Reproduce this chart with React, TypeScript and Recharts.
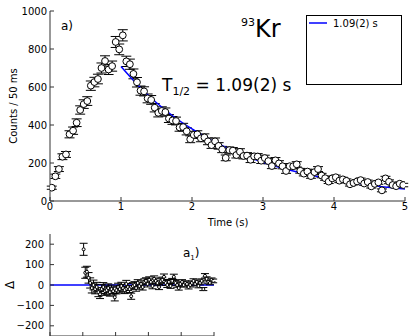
import { ComposedChart, Scatter, Line, XAxis, YAxis, ErrorBar } from 'recharts';

const FONT = '"DejaVu Sans", Verdana, sans-serif';
const BIN = 0.05; // 50 ms bins

// counts per 50 ms bin, bins centred at 0.025, 0.075, ... 4.975 s
const counts = [
  70, 130, 168, 233, 245, 351, 370, 412, 479, 510,
  526, 607, 626, 642, 700, 737, 692, 710, 837, 798,
  872, 735, 720, 669, 625, 581, 577, 540, 532, 491,
  464, 474, 468, 434, 424, 421, 387, 389, 367, 325,
  348, 351, 330, 335, 314, 294, 314, 290, 271, 227,
  268, 265, 242, 259, 237, 239, 217, 235, 234, 212,
  226, 210, 184, 214, 198, 183, 158, 183, 183, 193,
  159, 144, 155, 131, 152, 168, 134, 120, 102, 119,
  125, 107, 114, 106, 88, 95, 103, 110, 92, 100,
  77, 90, 98, 56, 119, 101, 84, 78, 91, 84,
];

// residuals (data - fit) for the bins from 1.0 s on
const residuals = [
  175, 60, 65, 35, 10, -15, 0, -20, -10, -35,
  -45, -20, -10, -30, -25, -15, -35, -20, -30, -60,
  -25, -10, -20, -5, -15, -25, 5, -10, -20, -55,
  -5, 0, -15, 10, -5, 5, -10, 15, 20, 5,
  25, 15, -5, 30, 20, 10, -10, 20, 25, 40,
  10, 0, 15, -5, 20, 40, 10, 0, -15, 5,
  15, 0, 10, 5, -10, 0, 10, 20, 5, 15,
  -5, 10, 20, -20, 45, 30, 15, 10, 25, 20,
];
const FIT_START = 20; // index of first bin in the fit range

// fit curve, T1/2 = 1.09(2) s
const fitT = [1, 1.25, 1.5, 1.75, 2, 2.25, 2.5, 2.75, 3, 3.25, 3.5, 3.75, 4, 4.25, 4.5, 4.75, 5];
const fitV = [708, 605, 517, 442, 379, 324, 278, 238, 204, 175, 151, 130, 112, 97, 84, 72, 63];

const xTicks = [0, 1, 2, 3, 4, 5];
const yTicks = [0, 200, 400, 600, 800, 1000];
const resTicks = [-200, -100, 0, 100, 200];

const mainData = counts.map((v, i) => ({ t: BIN * (i + 0.5), v, e: Math.sqrt(v) }));
const resData = residuals.map((r, k) => ({
  t: BIN * (FIT_START + k + 0.5),
  r,
  e: Math.sqrt(counts[FIT_START + k]),
}));
const fitData = fitT.map((t, i) => ({ t, v: fitV[i] }));
const zeroData = [{ t: 0, r: 0 }, { t: 5, r: 0 }];

const AXIS = '#333';
const tickStyle = { fontSize: 10, fill: '#000', fontFamily: FONT };
const noLabel = () => '';

const circle = (r: number) => (p: any) => (
  <circle cx={p.cx} cy={p.cy} r={r} fill="#fff" stroke="#000" strokeWidth={1} />
);

const minus = (v: number) => (v < 0 ? '\u2212' + Math.abs(v) : String(v));

export default function App() {
  return (
    <div
      style={{
        position: 'fixed', left: 0, top: 0, width: 409, height: 336,
        overflow: 'hidden', background: '#fff', fontFamily: FONT,
      }}
    >
      <div style={{ position: 'absolute', left: 0, top: 0 }}>
        <ComposedChart width={409} height={230} margin={{ top: 11, right: 4, bottom: 0, left: 0 }}>
          <XAxis
            type="number" dataKey="t" domain={[0, 5]} ticks={xTicks} height={29}
            stroke={AXIS} tickSize={-4} tickMargin={6} tick={tickStyle} allowDataOverflow
          />
          <XAxis
            xAxisId="top" orientation="top" type="number" domain={[0, 5]} ticks={xTicks}
            height={0} stroke={AXIS} tickSize={-4} tick={tickStyle} tickFormatter={noLabel}
          />
          <YAxis
            type="number" dataKey="v" domain={[0, 1000]} ticks={yTicks} width={50}
            stroke={AXIS} tickSize={-4} tickMargin={7} tick={tickStyle} allowDataOverflow
          />
          <YAxis
            yAxisId="r" orientation="right" type="number" domain={[0, 1000]} ticks={yTicks}
            width={0} stroke={AXIS} tickSize={-4} tick={tickStyle} tickFormatter={noLabel}
          />
          <Scatter data={mainData} dataKey="v" shape={circle(3.4)} isAnimationActive={false}>
            <ErrorBar dataKey="e" direction="y" width={5} stroke="#000" strokeWidth={1} />
          </Scatter>
          <Line
            data={fitData} dataKey="v" type="monotone" stroke="#0000ff" strokeWidth={1.5}
            dot={false} isAnimationActive={false}
          />
        </ComposedChart>
      </div>

      {/* residual panel; its bottom edge sits on the window edge, tick labels fall outside */}
      <div style={{ position: 'absolute', left: 0, top: 224 }}>
        <ComposedChart width={220} height={142} margin={{ top: 10, right: 6, bottom: 0, left: 0 }}>
          <XAxis
            type="number" dataKey="t" domain={[0, 5]} ticks={xTicks} height={30}
            stroke={AXIS} tickSize={-4} tick={tickStyle} tickFormatter={noLabel} allowDataOverflow
          />
          <XAxis
            xAxisId="top" orientation="top" type="number" domain={[0, 5]} ticks={xTicks}
            height={0} stroke={AXIS} tickSize={-4} tick={tickStyle} tickFormatter={noLabel}
          />
          <YAxis
            type="number" dataKey="r" domain={[-250, 250]} ticks={resTicks} width={50}
            stroke={AXIS} tickSize={-4} tickMargin={10} tick={tickStyle}
            tickFormatter={minus} allowDataOverflow
          />
          <YAxis
            yAxisId="r" orientation="right" type="number" domain={[-250, 250]} ticks={resTicks}
            width={0} stroke={AXIS} tickSize={-4} tick={tickStyle} tickFormatter={noLabel}
          />
          <Line
            data={zeroData} dataKey="r" stroke="#0000ff" strokeWidth={1.5}
            dot={false} isAnimationActive={false}
          />
          <Scatter data={resData} dataKey="r" shape={circle(1.5)} isAnimationActive={false}>
            <ErrorBar dataKey="e" direction="y" width={4} stroke="#000" strokeWidth={1} />
          </Scatter>
        </ComposedChart>
      </div>

      <svg
        width={409} height={336}
        style={{ position: 'absolute', left: 0, top: 0, pointerEvents: 'none' }}
        fontFamily={FONT}
      >
        <text x={13.5} y={106} transform="rotate(-90 13.5 106)" textAnchor="middle"
          dominantBaseline="central" fontSize={10}>Counts / 50 ms</text>
        <text x={228} y={222} textAnchor="middle" dominantBaseline="central" fontSize={10}>Time (s)</text>
        <text x={61} y={30} fontSize={12}>a)</text>
        <text x={241} y={37}>
          <tspan fontSize={11} dy={-11}>93</tspan>
          <tspan fontSize={24} dy={11}>Kr</tspan>
        </text>
        <text x={162} y={91} fontSize={17}>
          T<tspan fontSize={11} dy={4}>1/2</tspan><tspan dy={-4}> = 1.09(2) s</tspan>
        </text>
        <rect x={306.5} y={15.5} width={95} height={69} fill="#fff" stroke="#000" strokeWidth={1} />
        <line x1={309} x2={327} y1={23} y2={23} stroke="#0000ff" strokeWidth={1.5} />
        <text x={333} y={26.5} fontSize={10}>1.09(2) s</text>
        <text x={183} y={257} fontSize={12}>
          a<tspan fontSize={7} dy={3}>1</tspan><tspan dy={-3}>)</tspan>
        </text>
        <text x={10} y={285} transform="rotate(-90 10 285)" textAnchor="middle"
          dominantBaseline="central" fontSize={12}>Δ</text>
      </svg>
    </div>
  );
}
